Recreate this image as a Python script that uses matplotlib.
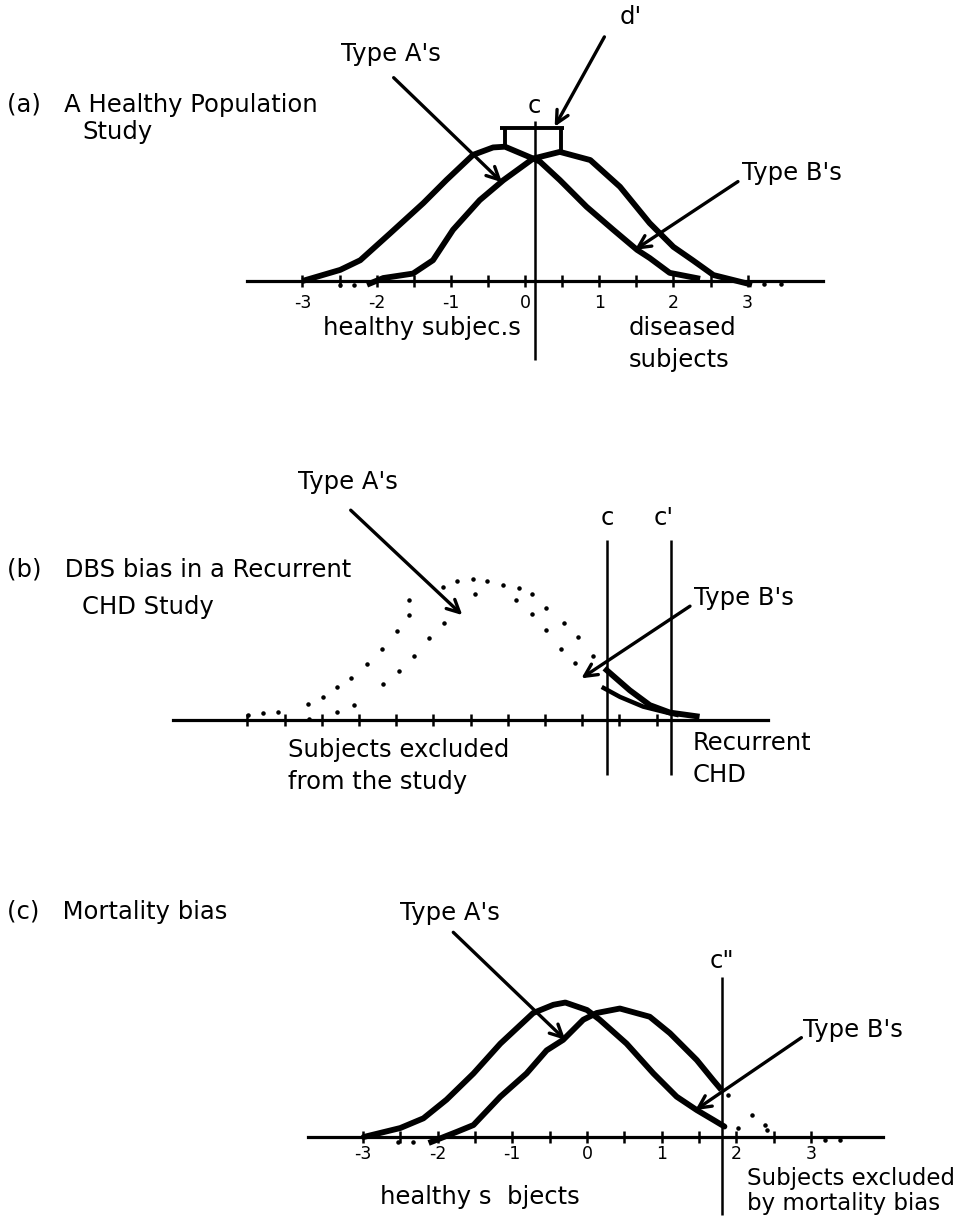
import matplotlib.pyplot as plt

plt.rcParams.update({"font.family": ["DejaVu Sans"], "axes.unicode_minus": False})

W, H = 971, 1222

# ---- data (z-units, curve heights in the same units)

# (a) healthy population study
A_HEALTHY_Z = [-3.0, -2.49, -2.22, -1.82, -1.37, -1.06, -0.70, -0.43, -0.27, 0.11,
               0.20, 0.47, 0.83, 1.19, 1.51, 1.68, 1.95, 2.36]
A_HEALTHY_H = [0.0, 0.15, 0.28, 0.64, 1.05, 1.36, 1.70, 1.80, 1.81, 1.65,
               1.61, 1.36, 1.00, 0.69, 0.42, 0.31, 0.11, 0.03]
A_DISEASED_Z = [-2.13, -1.91, -1.51, -1.24, -0.97, -0.61, -0.29, 0.11, 0.47, 0.88,
                1.28, 1.68, 2.00, 2.26, 2.54, 3.06]
A_DISEASED_H = [-0.05, 0.04, 0.10, 0.28, 0.69, 1.09, 1.36, 1.65, 1.74, 1.63,
                1.27, 0.78, 0.46, 0.28, 0.08, -0.05]
A_DOTS_Z = [-2.50, -2.30, 3.22, 3.45]
A_DOTS_H = [-0.05, -0.05, -0.04, -0.04]
A_CUT = 0.13
A_PEAK_Z = [-0.27, 0.49]
A_PEAK_H = [1.81, 1.74]

# (b) DBS bias: dotted part excluded from the study, solid part beyond c
B_HEALTHY_DOT_Z = [-2.99, -2.79, -2.59, -2.19, -1.98, -1.79, -1.60, -1.39, -1.19, -0.99,
                   -0.83, -0.83, -0.37, -0.18, 0.03, 0.06, 0.61, 0.83, 1.02, 1.21, 1.41]
B_HEALTHY_DOT_H = [0.07, 0.09, 0.11, 0.22, 0.31, 0.45, 0.57, 0.75, 0.95, 1.19,
                   1.41, 1.61, 1.79, 1.87, 1.90, 1.69, 1.61, 1.42, 1.21, 0.96, 0.77]
B_DISEASED_DOT_Z = [-2.17, -1.79, -1.56, -1.17, -0.96, -0.76, -0.56, -0.36,
                    0.22, 0.44, 0.65, 0.83, 1.02, 1.25, 1.45, 1.64]
B_DISEASED_DOT_H = [0.02, 0.11, 0.20, 0.48, 0.66, 0.86, 1.10, 1.31,
                    1.87, 1.81, 1.78, 1.69, 1.51, 1.31, 1.11, 0.86]
B_HEALTHY_Z = [1.79, 2.01, 2.32, 2.64, 2.77]
B_HEALTHY_H = [0.43, 0.31, 0.18, 0.10, 0.07]
B_DISEASED_Z = [1.83, 2.14, 2.41, 2.68, 3.04]
B_DISEASED_H = [0.67, 0.40, 0.20, 0.10, 0.05]
B_CUTS = [1.84, 2.70]

# (c) mortality bias
C_HEALTHY_Z = [-2.99, -2.50, -2.19, -1.88, -1.52, -1.16, -0.72, -0.45, -0.29, 0.0,
               0.17, 0.53, 0.89, 1.20, 1.47, 1.69, 1.84]
C_HEALTHY_H = [0.0, 0.12, 0.25, 0.50, 0.85, 1.25, 1.66, 1.77, 1.80, 1.70,
               1.57, 1.25, 0.85, 0.54, 0.36, 0.23, 0.14]
C_DISEASED_Z = [-2.12, -1.74, -1.52, -1.16, -0.81, -0.54, -0.32, -0.05, 0.13, 0.44,
                0.84, 1.11, 1.47, 1.69, 1.80]
C_DISEASED_H = [-0.08, 0.07, 0.16, 0.54, 0.85, 1.16, 1.30, 1.57, 1.66, 1.72,
                1.61, 1.39, 1.03, 0.76, 0.63]
C_DOTS_Z = [-2.53, -2.33, 1.89, 2.21, 2.02, 2.38, 2.41, 3.19, 3.39]
C_DOTS_H = [-0.07, -0.07, 0.56, 0.29, 0.12, 0.16, 0.09, -0.04, -0.04]
C_CUT = 1.81

TICK_POS = [-3, -2, -1, 0, 1, 2, 3]
TICK_LABELS = ["-3", "-2", "-1", "0", "1", "2", "3"]

FS = 17.5
LW_CURVE = 4.2
LW_ARROW = 2.4
ARROW = "->,head_length=0.9,head_width=0.45"

fig = plt.figure(figsize=(W / 100, H / 100), dpi=100)


def panel(top, bottom, z0, ay, scale, lo, hi, minor, labels=True, pad=5):
    ax = fig.add_axes([0, 1 - bottom / H, 1, (bottom - top) / H])
    ax.set_xlim(-z0 / scale, (W - z0) / scale)
    ax.set_ylim((ay - bottom) / scale, (ay - top) / scale)
    ax.patch.set_visible(False)
    for s in ["top", "right", "left"]:
        ax.spines[s].set_visible(False)
    ax.spines["bottom"].set_position(("data", 0))
    ax.spines["bottom"].set_bounds(lo, hi)
    ax.spines["bottom"].set_linewidth(2.3)
    ax.set_yticks([])
    if labels:
        ax.set_xticks(TICK_POS, TICK_LABELS, fontsize=12.5)
    else:
        ax.set_xticks([])
    ax.set_xticks(minor, minor=True)
    ax.tick_params(which="both", direction="inout", length=8, width=1.8, pad=pad)
    return ax


def arrow(ax, tail, head):
    ax.annotate("", xy=head, xytext=tail,
                arrowprops=dict(arrowstyle=ARROW, lw=LW_ARROW, color="k",
                                shrinkA=0, shrinkB=0))


# %% (a)
ax = panel(0, 400, 525, 281, 74.2, -3.75, 4.02, [-2.5, -1.5, -0.5, 0.5, 1.5, 2.5])
ax.plot(A_HEALTHY_Z, A_HEALTHY_H, c="k", lw=LW_CURVE, solid_capstyle="butt", zorder=3)
ax.plot(A_DISEASED_Z, A_DISEASED_H, c="k", lw=LW_CURVE, solid_capstyle="butt", zorder=3)
ax.scatter(A_DOTS_Z, A_DOTS_H, s=5, c="k", zorder=3)
ax.vlines(A_CUT, -1.06, 2.16, colors="k", lw=1.8, zorder=4)
ax.hlines(2.06, -0.34, 0.53, colors="k", lw=2.8)
ax.vlines(A_PEAK_Z, A_PEAK_H, 2.06, colors="k", lw=2.8)
ax.text(-6.98, 2.37, "(a)   A Healthy Population", fontsize=FS, va="center")
ax.text(-5.97, 2.01, "Study", fontsize=FS, va="center")
ax.text(-1.81, 3.06, "Type A's", fontsize=FS, ha="center", va="center")
arrow(ax, (-1.77, 2.74), (-0.31, 1.33))
ax.text(1.43, 3.56, "d'", fontsize=FS, ha="center", va="center")
arrow(ax, (1.07, 3.29), (0.40, 2.08))
ax.text(A_CUT, 2.36, "c", fontsize=FS, ha="center", va="center")
ax.text(2.92, 1.46, "Type B's", fontsize=FS, va="center")
arrow(ax, (2.87, 1.34), (1.48, 0.42))
ax.text(-1.39, -0.63, "healthy subjec.s", fontsize=FS, ha="center", va="center")
ax.text(1.40, -0.63, "diseased", fontsize=FS, va="center")
ax.text(1.40, -1.06, "subjects", fontsize=FS, va="center")

# %% (b)
ax = panel(400, 840, 470.5, 720, 74.4, -4.0, 4.0,
           [-3, -2.5, -2, -1.5, -1, -0.5, 0, 0.5, 1, 1.5, 2, 2.5], labels=False)
ax.scatter(B_HEALTHY_DOT_Z, B_HEALTHY_DOT_H, s=5, c="k", zorder=3)
ax.scatter(B_DISEASED_DOT_Z, B_DISEASED_DOT_H, s=5, c="k", zorder=3)
ax.plot(B_HEALTHY_Z, B_HEALTHY_H, c="k", lw=3.2, zorder=3)
ax.plot(B_DISEASED_Z, B_DISEASED_H, c="k", lw=LW_CURVE, zorder=3)
ax.vlines(B_CUTS, -0.74, 2.42, colors="k", lw=1.8, zorder=4)
ax.text(-6.23, 2.02, "(b)   DBS bias in a Recurrent", fontsize=FS, va="center")
ax.text(-5.22, 1.52, "CHD Study", fontsize=FS, va="center")
ax.text(-1.65, 3.20, "Type A's", fontsize=FS, ha="center", va="center")
arrow(ax, (-1.61, 2.82), (-0.11, 1.41))
ax.text(B_CUTS[0], 2.72, "c", fontsize=FS, ha="center", va="center")
ax.text(2.60, 2.72, "c'", fontsize=FS, ha="center", va="center")
ax.text(3.00, 1.64, "Type B's", fontsize=FS, va="center")
arrow(ax, (2.95, 1.53), (1.49, 0.56))
ax.text(-2.45, -0.40, "Subjects excluded", fontsize=FS, va="center")
ax.text(-2.45, -0.83, "from the study", fontsize=FS, va="center")
ax.text(2.98, -0.31, "Recurrent", fontsize=FS, va="center")
ax.text(2.98, -0.74, "CHD", fontsize=FS, va="center")

# %% (c)
ax = panel(840, 1222, 587, 1137, 74.7, -3.73, 3.96, [-2.5, -1.5, -0.5, 0.5, 1.5, 2.5],
           pad=2)
ax.plot(C_HEALTHY_Z, C_HEALTHY_H, c="k", lw=LW_CURVE, solid_capstyle="round", zorder=3)
ax.plot(C_DISEASED_Z, C_DISEASED_H, c="k", lw=LW_CURVE, solid_capstyle="butt", zorder=3)
ax.scatter(C_DOTS_Z, C_DOTS_H, s=5, c="k", zorder=3)
ax.vlines(C_CUT, -1.04, 2.14, colors="k", lw=1.8, zorder=4)
ax.text(-7.76, 3.01, "(c)   Mortality bias", fontsize=FS, va="center")
ax.text(-1.83, 3.00, "Type A's", fontsize=FS, ha="center", va="center")
arrow(ax, (-1.79, 2.74), (-0.29, 1.30))
ax.text(C_CUT, 2.35, 'c"', fontsize=FS, ha="center", va="center")
ax.text(2.89, 1.43, "Type B's", fontsize=FS, va="center")
arrow(ax, (2.87, 1.33), (1.45, 0.36))
ax.text(-1.43, -0.80, "healthy s  bjects", fontsize=FS, ha="center", va="center")
ax.text(2.14, -0.56, "Subjects excluded", fontsize=16.5, va="center")
ax.text(2.14, -0.89, "by mortality bias", fontsize=16.5, va="center")

fig.savefig("out.png", dpi=100)
